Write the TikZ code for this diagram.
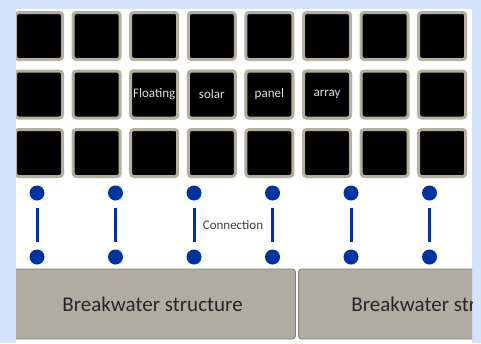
\documentclass[tikz,border=0pt]{standalone}
\usepackage{fontspec}
\setmainfont{Carlito}
\definecolor{bgblue}{RGB}{212,228,252}
\definecolor{panelgray}{RGB}{180,176,160}
\definecolor{boxgray}{RGB}{176,173,160}
\definecolor{boxedge}{RGB}{128,126,118}
\definecolor{dotblue}{RGB}{0,51,160}
\definecolor{paneltext}{RGB}{225,225,225}
\definecolor{labeltext}{RGB}{64,64,64}
\tikzset{
  panel/.style={draw=panelgray, line width=3pt, fill=black, rounded corners=3pt,
    minimum width=47pt, minimum height=47pt, inner sep=0pt, text=paneltext, font=\fontsize{13}{15}\selectfont},
  joint/.style={circle, fill=dotblue, minimum size=15pt, inner sep=0pt},
  link/.style={draw=dotblue, line width=3pt, shorten <=7pt, shorten >=7pt},
  breakbox/.style={draw=boxedge, line width=0.8pt, fill=boxgray, rounded corners=3pt,
    minimum width=286pt, minimum height=70pt, inner sep=0pt, text=black!85, font=\fontsize{21}{25}\selectfont},
  lbl/.style={text=labeltext, font=\fontsize{13}{15}\selectfont}
}
\begin{document}
\begin{tikzpicture}[x=1pt,y=-1pt]
\useasboundingbox (0,0) rectangle (481,343);
\fill[bgblue] (0,0) rectangle (481,343);
\fill[white] (16,9) rectangle (472,343);
\begin{scope}
\clip (16,9) rectangle (472,343);
% panels
\foreach \c in {0,...,7}{
  \foreach \r in {0,1,2}{
    \pgfmathsetmacro{\px}{39+57.6*\c}
    \pgfmathsetmacro{\py}{36+58.5*\r}
    \node[panel] (p\c\r) at (\px,\py) {};
  }
}
\node[panel] (fl) at (p21) {Floating};
\node[panel] (so) at (p31) {solar};
\node[panel] (pa) at (p41) {panel};
\node[panel] (ar) at (p51) {array};
% joints
\foreach \k in {0,...,5}{
  \pgfmathsetmacro{\jx}{37+78.5*\k}
  \node[joint] (t\k) at (\jx,193) {};
  \node[joint] (b\k) at (\jx,257) {};
  \draw[link] (t\k) -- (b\k);
}
\node[lbl] (conn) at (233,225) {Connection};
% breakwater
\node[breakbox] (bw1) at (152.5,304) {Breakwater structure};
\node[breakbox] (bw2) at (441.5,304) {Breakwater structure};
\end{scope}
\end{tikzpicture}
\end{document}
